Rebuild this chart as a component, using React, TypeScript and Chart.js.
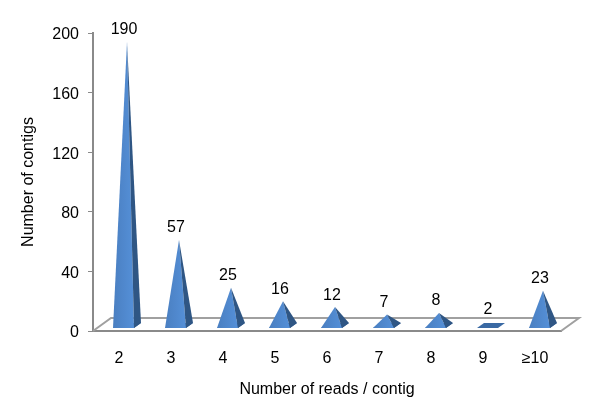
import React, { useEffect, useRef } from "react";
import { Chart, registerables } from "chart.js";

Chart.register(...registerables);

const categories = ["2", "3", "4", "5", "6", "7", "8", "9", "≥10"];
const contigs = [190, 57, 25, 16, 12, 7, 8, 2, 23];
const yTicks = [0, 40, 80, 120, 160, 200];
const xTitle = "Number of reads / contig";
const yTitle = "Number of contigs";

const FONT = "'Liberation Sans', Arial, sans-serif";
const AXIS = "#8a8a8a";

const pyramids = {
  id: "pyramids",
  beforeDatasetsDraw(chart: any) {
    const { ctx, chartArea: a } = chart;
    ctx.save();
    ctx.strokeStyle = "#a0a0a0";
    ctx.lineWidth = 2;
    ctx.beginPath();
    ctx.moveTo(a.left, a.bottom);
    ctx.lineTo(a.left + 18, a.bottom - 13);
    ctx.lineTo(a.right + 18, a.bottom - 13);
    ctx.lineTo(a.right, a.bottom);
    ctx.stroke();
    ctx.restore();
  },
  afterDatasetsDraw(chart: any) {
    const { ctx, scales } = chart;
    const meta = chart.getDatasetMeta(0);
    const zero = scales.y.getPixelForValue(0);
    ctx.save();
    meta.data.forEach((bar: any, i: number) => {
      const cx = bar.x;
      const l = cx - 6;
      const r = cx + 15;
      const sx = cx + 22;
      const front = zero - 3;
      const back = zero - 8;
      const apexX = cx + 8;
      const apexY = scales.y.getPixelForValue(contigs[i]) - 6;

      ctx.fillStyle = "#3a69a3";
      ctx.beginPath();
      ctx.moveTo(l, front);
      ctx.lineTo(r, front);
      ctx.lineTo(sx, back);
      ctx.lineTo(l + 7, back);
      ctx.closePath();
      ctx.fill();

      if (contigs[i] > 3) {
        const g = ctx.createLinearGradient(l, 0, r, 0);
        g.addColorStop(0, "#4a7fc1");
        g.addColorStop(1, "#5590d8");
        ctx.fillStyle = g;
        ctx.beginPath();
        ctx.moveTo(l, front);
        ctx.lineTo(r, front);
        ctx.lineTo(apexX, apexY);
        ctx.closePath();
        ctx.fill();

        ctx.fillStyle = "#2f5684";
        ctx.beginPath();
        ctx.moveTo(r, front);
        ctx.lineTo(sx, back);
        ctx.lineTo(apexX, apexY);
        ctx.closePath();
        ctx.fill();
      }

      ctx.fillStyle = "#000";
      ctx.font = `16px ${FONT}`;
      ctx.textAlign = "center";
      ctx.textBaseline = "middle";
      ctx.fillText(String(contigs[i]), cx + 5, apexY - 12);
    });
    ctx.restore();
  },
};

export default function App() {
  const ref = useRef<HTMLCanvasElement | null>(null);

  useEffect(() => {
    document.body.style.margin = "0";
    const chart = new Chart(ref.current as HTMLCanvasElement, {
      type: "bar",
      data: {
        labels: categories,
        datasets: [
          {
            data: contigs,
            backgroundColor: "rgba(0,0,0,0)",
            borderWidth: 0,
          },
        ],
      },
      options: {
        responsive: false,
        animation: false,
        layout: { padding: { left: 19, right: 39, top: 33, bottom: 16 } },
        plugins: { legend: { display: false }, tooltip: { enabled: false } },
        scales: {
          x: {
            grid: { display: false },
            border: { display: true, color: AXIS, width: 2 },
            ticks: { color: "#000", font: { family: FONT, size: 16 }, padding: 10, maxRotation: 0 },
            title: {
              display: true,
              text: xTitle,
              color: "#000",
              font: { family: FONT, size: 16 },
              padding: { top: 0, bottom: 0 },
            },
            afterFit(s: any) {
              s.height = 68;
            },
          },
          y: {
            min: 0,
            max: 200,
            afterBuildTicks(s: any) {
              s.ticks = yTicks.map((value) => ({ value }));
            },
            grid: { drawOnChartArea: false, color: AXIS, tickLength: 5, lineWidth: 1 },
            border: { display: true, color: AXIS, width: 2 },
            ticks: { color: "#000", font: { family: FONT, size: 16 }, padding: 9, labelOffset: 2 },
            title: {
              display: true,
              text: yTitle,
              color: "#000",
              font: { family: FONT, size: 16 },
              padding: { top: 0, bottom: 0 },
            },
            afterFit(s: any) {
              s.width = 74;
            },
          },
        },
      },
      plugins: [pyramids],
    } as any);
    return () => chart.destroy();
  }, []);

  return <canvas ref={ref} width={600} height={415} style={{ display: "block" }} />;
}
